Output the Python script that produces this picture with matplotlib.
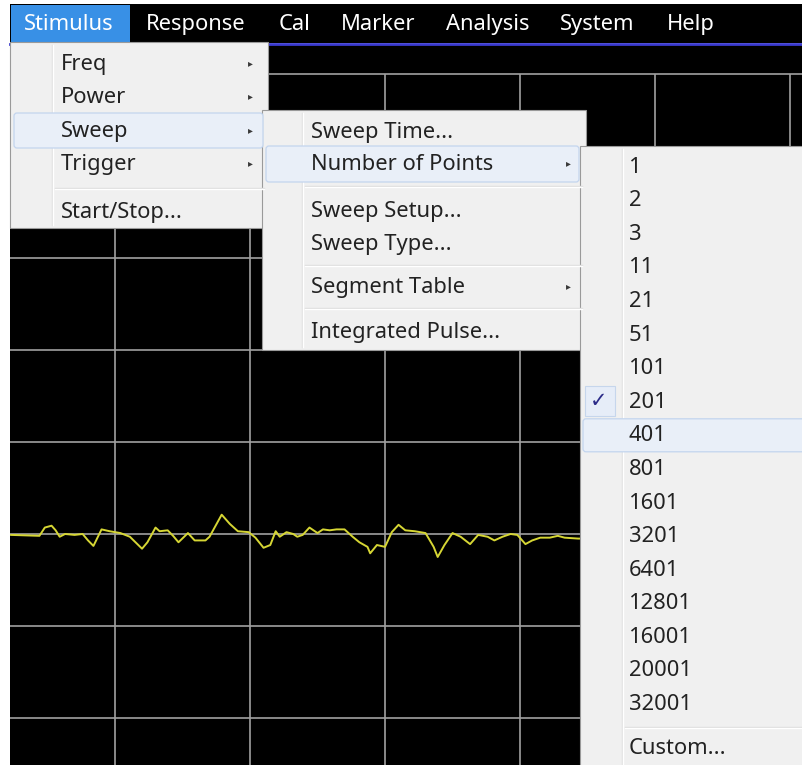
"""
Analyzer screen: Stimulus > Sweep > Number of Points menu over a flat trace.
Writes: out.png
"""

import matplotlib
matplotlib.use("Agg")
import matplotlib.pyplot as plt
from matplotlib.patches import Rectangle, FancyBboxPatch

plt.rcParams["font.family"] = ["Noto Sans", "DejaVu Sans"]

W, H = 803, 765

MENU_BAR = ["Stimulus", "Response", "Cal", "Marker", "Analysis", "System", "Help"]
STIMULUS_ITEMS = ["Freq", "Power", "Sweep", "Trigger", "Start/Stop..."]
STIMULUS_SUB = [True, True, True, True, False]
SWEEP_ITEMS = ["Sweep Time...", "Number of Points", "Sweep Setup...",
               "Sweep Type...", "Segment Table", "Integrated Pulse..."]
SWEEP_SUB = [False, True, False, False, True, False]
POINT_OPTIONS = ["1", "2", "3", "11", "21", "51", "101", "201", "401", "801",
                 "1601", "3201", "6401", "12801", "16001", "20001", "32001"]
CHECKED = "201"
HOVER = "401"

# trace: x in grid divisions, y in dB (1 dB/div, reference line at 0 dB)
trace_x = [0.23, 0.44, 0.48, 0.53, 0.56, 0.59, 0.63, 0.70, 0.76, 0.80,
           0.84, 0.87, 0.90, 0.96, 1.04, 1.11, 1.20, 1.24, 1.30, 1.33,
           1.39, 1.43, 1.47, 1.54, 1.59, 1.67, 1.70, 1.79, 1.85, 1.91,
           1.99, 2.04, 2.10, 2.15, 2.19, 2.22, 2.27, 2.32, 2.35, 2.39,
           2.44, 2.50, 2.54, 2.59, 2.64, 2.70, 2.76, 2.81, 2.87, 2.89,
           2.94, 3.00, 3.05, 3.10, 3.15, 3.22, 3.30, 3.36, 3.39, 3.44,
           3.50, 3.56, 3.63, 3.69, 3.76, 3.81, 3.87, 3.93, 3.98, 4.04,
           4.09, 4.15, 4.22, 4.28, 4.33, 4.43, 4.60]
trace_db = [-0.01, -0.02, 0.07, 0.09, 0.04, -0.03, 0.00, -0.01, 0.00, -0.07,
            -0.13, -0.04, 0.05, 0.03, 0.01, -0.03, -0.16, -0.09, 0.07, 0.03,
            0.04, -0.02, -0.09, 0.01, -0.07, -0.07, -0.03, 0.21, 0.11, 0.03,
            0.02, -0.04, -0.15, -0.12, 0.03, -0.03, 0.02, 0.00, -0.03, -0.01,
            0.07, 0.01, 0.05, 0.04, 0.05, 0.05, -0.03, -0.09, -0.14, -0.21,
            -0.12, -0.14, 0.02, 0.10, 0.04, 0.03, 0.01, -0.14, -0.25, -0.12,
            0.01, -0.03, -0.11, -0.01, -0.03, -0.07, -0.03, 0.00, -0.01, -0.11,
            -0.07, -0.04, -0.04, -0.02, -0.04, -0.05, -0.05]

GRID_X = [1, 2, 3, 4, 5, 6]
GRID_Y = [-2, -1, 0, 1, 2, 3, 4, 5]

MENU_BG = "#f0f0f0"
TEXT = "#222222"
HILITE_FC = "#e9eff8"
HILITE_EC = "#c3d5ee"
FS = 15.8

fig = plt.figure(figsize=(W / 100, H / 100), dpi=100)
fig.patch.set_facecolor("white")

# --- trace display -------------------------------------------------------
disp = fig.add_axes([10 / W, 0, (W - 10) / W, (H - 44) / H])
disp.set_facecolor("black")
disp.set_xlim(0.222, 6.096)
disp.set_ylim(-2.511, 5.326)
for s in disp.spines.values():
    s.set_visible(False)
disp.set_xticks([])
disp.set_yticks([])
disp.hlines(GRID_Y, 0.222, 6.096, color="#a0a0a0", lw=1.2)
disp.vlines(GRID_X, -2.511, 5, color="#a0a0a0", lw=1.2)
disp.plot(trace_x, trace_db, color="#d6d634", lw=1.4)

# --- menus (screen-pixel overlay) ----------------------------------------
ui = fig.add_axes([0, 0, 1, 1])
ui.set_xlim(0, W)
ui.set_ylim(H, 0)
ui.axis("off")
ui.patch.set_alpha(0)

# menu bar
ui.add_patch(Rectangle((10, 4), W - 10, 39, facecolor="black", lw=0))
ui.plot([10, W], [44, 44], color="#3a3ad0", lw=2)
ui.add_patch(Rectangle((11, 5), 119, 37, facecolor="#3890e6", lw=0))
bar_x = [24, 146, 279, 341, 446, 560, 667]
for lbl, x in zip(MENU_BAR, bar_x):
    ui.text(x, 24, lbl, color="white", fontsize=FS, va="center", ha="left")


def menu(x0, y0, x1, y1, col_x):
    ui.add_patch(Rectangle((x0, y0), x1 - x0, y1 - y0, facecolor=MENU_BG,
                           edgecolor="#9a9a9a", lw=0.8, zorder=2))
    ui.plot([col_x, col_x], [y0 + 3, y1 - 3], color="#e0e0e0", lw=1, zorder=3)
    ui.plot([col_x + 1, col_x + 1], [y0 + 3, y1 - 3], color="white", lw=1, zorder=3)


def separator(x0, x1, y):
    ui.plot([x0, x1], [y, y], color="#dcdcdc", lw=1, zorder=3)
    ui.plot([x0, x1], [y + 1, y + 1], color="white", lw=1, zorder=3)


def hilite(x0, y0, x1, y1):
    ui.add_patch(FancyBboxPatch((x0, y0), x1 - x0, y1 - y0,
                                boxstyle="round,pad=0,rounding_size=3",
                                facecolor=HILITE_FC, edgecolor=HILITE_EC,
                                lw=0.9, zorder=3))


def arrow(x, y):
    ui.text(x, y, "\u25b8", fontsize=7, color="#3a3a3a", family="DejaVu Sans",
            ha="center", va="center", zorder=4)


# Stimulus menu
menu(10, 42, 268, 228, 52)
hilite(14, 113, 263, 148)
stim_y = [64, 97, 131, 164, 212]
for lbl, sub, y in zip(STIMULUS_ITEMS, STIMULUS_SUB, stim_y):
    ui.text(61, y, lbl, fontsize=FS, color=TEXT, va="center", zorder=4)
    if sub:
        arrow(250, y - 1)
separator(55, 264, 188)

# Sweep submenu
menu(262, 110, 586, 350, 302)
hilite(266, 146, 579, 182)
sweep_y = [132, 164, 211, 244, 287, 332]
for lbl, sub, y in zip(SWEEP_ITEMS, SWEEP_SUB, sweep_y):
    ui.text(311, y, lbl, fontsize=FS, color=TEXT, va="center", zorder=4)
    if sub:
        arrow(568, y - 1)
for y in [186, 265, 308]:
    separator(305, 582, y)

# Number of Points submenu
menu(580, 146, W + 5, H + 5, 622)
for i, lbl in enumerate(POINT_OPTIONS):
    y = 167 + 33.6 * i
    if lbl == HOVER:
        hilite(583, y - 17, W + 5, y + 16)
    if lbl == CHECKED:
        ui.add_patch(Rectangle((585, y - 16), 30, 30, facecolor="#e6edf8",
                               edgecolor="#c6d6ec", lw=0.8, zorder=3))
        ui.text(599, y - 1, "\u2713", fontsize=15, color="#2b2b88",
                family="DejaVu Sans", ha="center", va="center", zorder=4)
    ui.text(629, y, lbl, fontsize=FS, color=TEXT, va="center", zorder=4)
separator(625, W, 727)
ui.text(629, 749, "Custom...", fontsize=FS, color=TEXT, va="center", zorder=4)

fig.savefig("out.png", dpi=100, facecolor=fig.get_facecolor())
